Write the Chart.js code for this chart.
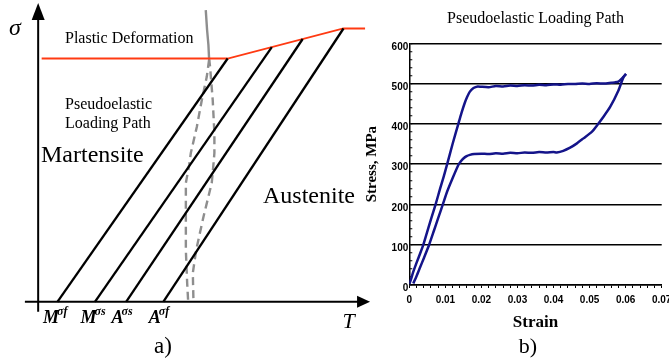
<!DOCTYPE html>
<html>
<head>
<meta charset="utf-8">
<script src="https://cdn.jsdelivr.net/npm/chart.js@4/dist/chart.umd.min.js"></script>
<style>
  html, body { margin:0; padding:0; background:#fff; }
  body { width:669px; height:363px; overflow:hidden; position:relative; }
  canvas { position:absolute; top:0; }
</style>
</head>
<body>
<canvas id="left" width="380" height="363" style="left:0"></canvas>
<canvas id="right" width="335" height="363" style="left:355px"></canvas>
<script>
// ---------- Panel a) schematic phase diagram (T, sigma in arbitrary units) ----------
const transNames = [['M','σf'], ['M','σs'], ['A','σs'], ['A','σf']];
const transT0 = [5.8, 17.1, 26.5, 37.7];          // temperature at zero stress
const transTopT = [57.1, 70.4, 79.7, 92.0];       // temperature at plastic limit
const transTopSigma = [81.1, 84.9, 87.6, 91.1];   // stress at plastic limit
const plasticT = [1.05, 57.1, 92.0, 98.5];
const plasticSigma = [81.1, 81.1, 91.1, 91.1];
const pathTopT = [50.5, 50.9, 51.3, 51.5];
const pathTopSigma = [97.2, 90.6, 85.6, 81.1];
const pathLeftT = [51.5, 50.8, 49.3, 47.8, 46.0, 45.5, 44.5, 44.5, 44.5, 44.9, 45.2];
const pathLeftSigma = [80.6, 75.0, 67.2, 58.3, 49.6, 45.6, 39.6, 28.3, 17.2, 6.2, 0];
const pathRightT = [51.5, 51.8, 52.6, 53.1, 53.1, 52.8, 52.3, 49.8, 47.6, 46.6, 46.8];
const pathRightSigma = [81.1, 78.3, 67.2, 56.2, 49.6, 45.6, 39.6, 28.3, 17.2, 9.6, 0];
const tAxis = [-4, 97];
const sigmaAxis = [-3.3, 94.5];
const tAxisTip = 100;
const sigmaAxisTip = 99.6;

// ---------- Panel b) measured pseudoelastic loop ----------
const loadStrain = [0, 0.0005, 0.001, 0.002, 0.003, 0.0039, 0.005, 0.006, 0.0073, 0.0085, 0.0095, 0.0105, 0.012, 0.0136, 0.0145, 0.0153, 0.016, 0.0168, 0.0178, 0.019, 0.020, 0.022, 0.024, 0.026, 0.028, 0.030, 0.032, 0.034, 0.036, 0.038, 0.040, 0.042, 0.044, 0.046, 0.048, 0.050, 0.052, 0.054, 0.056, 0.057, 0.058, 0.059, 0.0601];
const loadStress = [2, 15, 30, 55, 78, 100, 133, 163, 200, 238, 268, 300, 350, 400, 428, 450, 466, 480, 489, 493, 492, 491, 494, 493, 495, 494, 496, 495, 497, 496, 498, 497, 499, 499, 500, 499, 501, 500, 502, 503, 505, 513, 524];
const unloadStrain = [0.0601, 0.0594, 0.058, 0.0557, 0.0538, 0.0523, 0.0506, 0.0483, 0.0464, 0.0446, 0.0427, 0.0409, 0.040, 0.038, 0.036, 0.034, 0.032, 0.030, 0.028, 0.026, 0.024, 0.022, 0.020, 0.018, 0.0168, 0.0159, 0.0150, 0.0142, 0.0136, 0.012, 0.0105, 0.0093, 0.008, 0.0068, 0.0055, 0.004, 0.003, 0.002, 0.0011];
const unloadStress = [524, 516, 483, 442, 417, 399, 380, 364, 351, 341, 333, 329, 330, 329, 330, 328, 329, 327, 328, 326, 327, 325, 326, 325, 323, 320, 314, 306, 298, 265, 232, 200, 166, 134, 100, 66, 44, 22, 4];
const strainTicks = [0, 0.01, 0.02, 0.03, 0.04, 0.05, 0.06, 0.07];
const stressTicks = [0, 100, 200, 300, 400, 500, 600];

const SERIF = '"Liberation Serif", "Times New Roman", serif';
const SANS = '"Liberation Sans", Arial, sans-serif';
const zip = (xs, ys) => xs.map((v, i) => ({x: v, y: ys[i]}));
const lineDs = (data, color, width, dash) => ({
  data, showLine: true, borderColor: color, borderWidth: width, borderDash: dash || [],
  pointRadius: 0, fill: false, tension: 0
});

// ----- left chart -----
const leftDatasets = [];
leftDatasets.push(lineDs([{x: 0, y: sigmaAxis[0]}, {x: 0, y: sigmaAxis[1]}], '#000', 2));
leftDatasets.push(lineDs([{x: tAxis[0], y: 0}, {x: tAxis[1], y: 0}], '#000', 2));
transT0.forEach((t, i) => {
  leftDatasets.push(lineDs([{x: t, y: 0}, {x: transTopT[i], y: transTopSigma[i]}], '#000', 2.3));
});
leftDatasets.push(lineDs(zip(plasticT, plasticSigma), '#ff3a12', 1.8));
leftDatasets.push(lineDs(zip(pathTopT, pathTopSigma), '#8e8e8e', 2.4));
leftDatasets.push(lineDs(zip(pathLeftT, pathLeftSigma), '#8e8e8e', 2.4, [8, 5]));
leftDatasets.push(lineDs(zip(pathRightT, pathRightSigma), '#8e8e8e', 2.4, [8, 5]));

const leftAnnot = {
  id: 'leftAnnot',
  afterDatasetsDraw(chart) {
    const {ctx, scales: {x, y}} = chart;
    ctx.save();
    ctx.fillStyle = '#000';
    // arrow heads
    const ax = x.getPixelForValue(0), at = y.getPixelForValue(sigmaAxisTip);
    ctx.beginPath(); ctx.moveTo(ax, at); ctx.lineTo(ax - 6.5, at + 17); ctx.lineTo(ax + 6.5, at + 17); ctx.closePath(); ctx.fill();
    const bx = x.getPixelForValue(tAxisTip), by = y.getPixelForValue(0);
    ctx.beginPath(); ctx.moveTo(bx, by); ctx.lineTo(bx - 13, by - 6); ctx.lineTo(bx - 13, by + 6); ctx.closePath(); ctx.fill();
    // texts
    ctx.textBaseline = 'alphabetic';
    ctx.textAlign = 'left';
    ctx.font = 'italic 24px ' + SERIF; ctx.fillText('σ', 9, 35);
    ctx.font = '16px ' + SERIF;
    ctx.fillText('Plastic Deformation', 65, 42.5);
    ctx.fillText('Pseudoelastic', 65, 109);
    ctx.fillText('Loading Path', 65, 127.5);
    ctx.font = '24px ' + SERIF;
    ctx.fillText('Martensite', 41, 161.5);
    ctx.fillText('Austenite', 263, 203);
    ctx.font = 'italic 22px ' + SERIF; ctx.fillText('T', 342.5, 328);
    transNames.forEach((nm, i) => {
      const px = x.getPixelForValue(transT0[i]) - 14.5;
      ctx.font = 'italic bold 18px ' + SERIF;
      ctx.fillText(nm[0], px, 323);
      const w = ctx.measureText(nm[0]).width;
      ctx.font = 'italic bold 12px ' + SERIF;
      ctx.fillText(nm[1], px + w - 2, 315);
    });
    ctx.textAlign = 'center';
    ctx.font = '23px ' + SERIF; ctx.fillText('a)', 163, 353);
    ctx.restore();
  }
};

new Chart(document.getElementById('left'), {
  type: 'scatter',
  data: { datasets: leftDatasets },
  options: {
    responsive: false, animation: false, devicePixelRatio: 1,
    layout: { padding: 0 },
    plugins: { legend: { display: false }, tooltip: { enabled: false } },
    scales: {
      x: { type: 'linear', display: false, min: -11.5, max: 103 },
      y: { type: 'linear', display: false, min: -20.4, max: 100.6 }
    }
  },
  plugins: [leftAnnot]
});

// ----- right chart -----
const isMult = (v, step) => Math.abs(v / step - Math.round(v / step)) < 1e-6;
const bLabel = {
  id: 'bLabel',
  afterDraw(chart) {
    const {ctx} = chart;
    ctx.save();
    ctx.fillStyle = '#000';
    ctx.font = '22px ' + SERIF;
    ctx.textAlign = 'center';
    ctx.textBaseline = 'alphabetic';
    ctx.fillText('b)', 173, 353);
    ctx.restore();
  }
};

new Chart(document.getElementById('right'), {
  type: 'scatter',
  data: {
    datasets: [
      Object.assign(lineDs(zip(loadStrain, loadStress), '#14148a', 2.5), { label: 'Loading', tension: 0.2 }),
      Object.assign(lineDs(zip(unloadStrain, unloadStress), '#14148a', 2.5), { label: 'Unloading', tension: 0.2 })
    ]
  },
  options: {
    responsive: false, animation: false, devicePixelRatio: 1,
    layout: { padding: { left: 0, right: 28.3, top: 0, bottom: 0 } },
    plugins: {
      legend: { display: false }, tooltip: { enabled: false },
      title: {
        display: true, text: 'Pseudoelastic Loading Path', color: '#000', fullSize: false,
        font: { family: SERIF, size: 16, weight: 'normal', lineHeight: 1.2 },
        padding: { top: 9, bottom: 15.1 }
      }
    },
    scales: {
      x: {
        type: 'linear', min: strainTicks[0], max: strainTicks[strainTicks.length - 1],
        afterFit: s => { s.height = 78; },
        border: { color: '#000', width: 1.5 },
        grid: { drawOnChartArea: false, drawTicks: true, tickLength: 3, tickColor: '#000', tickWidth: 1 },
        ticks: {
          stepSize: 0.002, autoSkip: false, maxRotation: 0, maxTicksLimit: 100, padding: 6,
          color: '#000', font: { family: SANS, size: 10, weight: 'bold' },
          callback: v => isMult(v, 0.01) ? (Math.abs(v) < 1e-9 ? '0' : v.toFixed(2)) : ''
        },
        title: {
          display: true, text: 'Strain', color: '#000',
          font: { family: SERIF, size: 17, weight: 'bold', lineHeight: 1.2 },
          padding: { top: 0, bottom: 30.5 }
        }
      },
      y: {
        type: 'linear', min: stressTicks[0], max: stressTicks[stressTicks.length - 1],
        afterFit: s => { s.width = 54.3; },
        border: { color: '#000', width: 1.5 },
        grid: {
          drawTicks: true, tickLength: -3, tickColor: '#000', tickWidth: 1, lineWidth: 1.5,
          color: c => (c.tick && isMult(c.tick.value, 100)) ? '#000' : 'rgba(0,0,0,0)'
        },
        ticks: {
          stepSize: 20, autoSkip: false, maxTicksLimit: 100, padding: 4, labelOffset: 3.5,
          color: '#000', font: { family: SANS, size: 10, weight: 'bold' },
          callback: v => isMult(v, 100) ? String(v) : ''
        },
        title: {
          display: true, text: 'Stress, MPa', color: '#000',
          font: { family: SERIF, size: 15, weight: 'bold', lineHeight: 1.2 },
          padding: { top: 7.7, bottom: 0 }
        }
      }
    }
  },
  plugins: [bLabel]
});
</script>
</body>
</html>
